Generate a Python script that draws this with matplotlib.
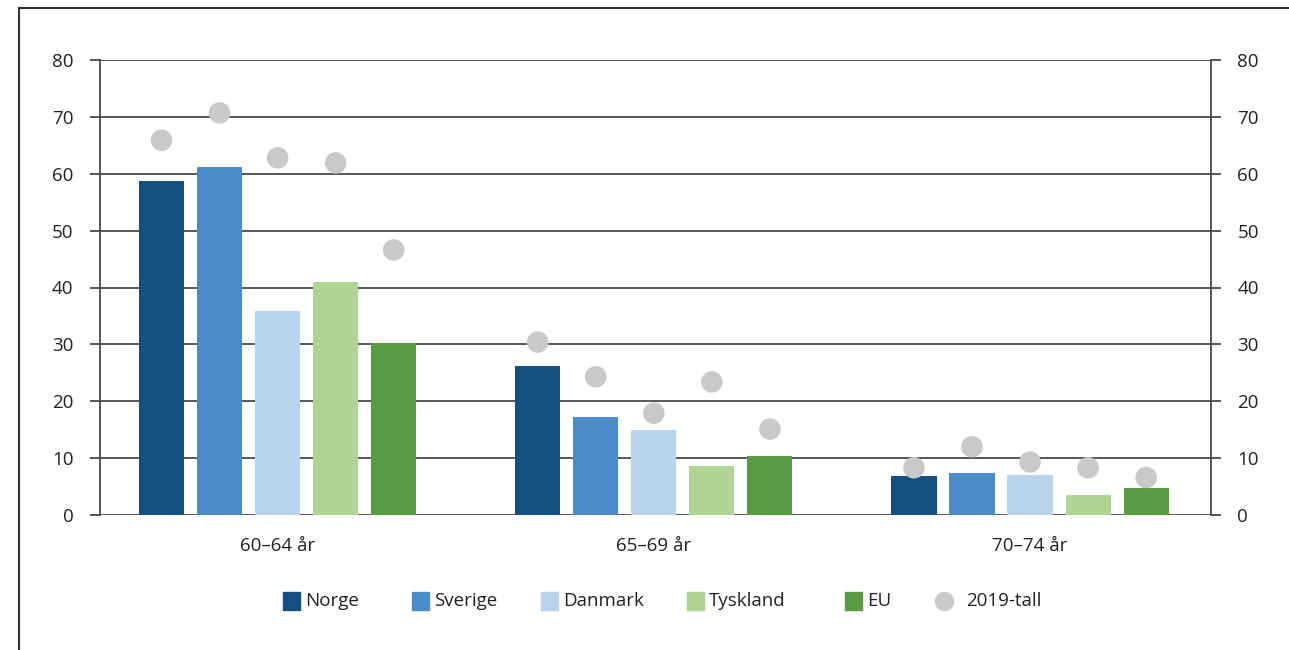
import matplotlib
matplotlib.use("Agg")
import matplotlib.pyplot as plt
import numpy as np
from matplotlib.patches import Rectangle
from matplotlib.lines import Line2D

# Age groups and countries
groups = ["60\u201364 år", "65\u201369 år", "70\u201374 år"]
countries = ["Norge", "Sverige", "Danmark", "Tyskland", "EU"]
colors = ["#134f80", "#4d8ac8", "#b8d3eb", "#b0d494", "#5a9a44"]

# Employment rate (%) by country, one list per age group order
norge = [58.8, 26.2, 6.9]
sverige = [61.2, 17.3, 7.4]
danmark = [35.9, 14.9, 7.0]
tyskland = [41.0, 8.6, 3.6]
eu = [30.2, 10.3, 4.8]

# Corresponding 2019 values
norge_2019 = [65.9, 30.4, 8.3]
sverige_2019 = [70.7, 24.3, 12.0]
danmark_2019 = [62.8, 17.9, 9.3]
tyskland_2019 = [61.9, 23.4, 8.3]
eu_2019 = [46.6, 15.1, 6.6]

dot_label = "2019-tall"
dot_color = "#c8c9cb"
yticks = [0, 10, 20, 30, 40, 50, 60, 70, 80]

values = [norge, sverige, danmark, tyskland, eu]
values_2019 = [norge_2019, sverige_2019, danmark_2019, tyskland_2019, eu_2019]

plt.rcParams["font.family"] = ["Open Sans", "DejaVu Sans"]
W, H = 1289, 650
fig = plt.figure(figsize=(W / 100, H / 100), dpi=100)
ax = fig.add_axes([100 / W, 1 - 515 / H, (1211 - 100) / W, (515 - 60) / H])

x = np.arange(len(groups))
width = 0.12
step = 0.1543
grid_c = "#4a4a4a"
text_c = "#222222"

for i, (vals, col) in enumerate(zip(values, colors)):
    pos = x + (i - 2) * step
    ax.bar(pos, vals, width=width, color=col, edgecolor="none", zorder=3)
for i, vals in enumerate(values_2019):
    pos = x + (i - 2) * step
    ax.scatter(pos, vals, s=240, color=dot_color, edgecolors="none", zorder=4)

ax.set_xlim(-0.472, 2.481)
ax.set_ylim(0, 80)
ax.set_yticks(yticks)
ax.set_xticks([])
for y in yticks:
    ax.axhline(y, color=grid_c, lw=1.3, zorder=2)
for s in ["top", "bottom"]:
    ax.spines[s].set_visible(False)
for s in ["left", "right"]:
    ax.spines[s].set_color(grid_c)
    ax.spines[s].set_linewidth(1.3)
ax.tick_params(axis="y", which="both", left=True, right=True, labelleft=True,
               labelright=True, length=7, width=1.3, color=grid_c,
               labelsize=13.5, pad=12, labelcolor=text_c)

# Group labels under the bars
for xi, g in zip(x, groups):
    ax.text(xi, -5.5, g, ha="center", va="center", fontsize=13.5, color=text_c)

# Legend drawn as a row of swatches
legend_x = [283, 412, 541, 687, 845]
ly = 601
for lx, name, col in zip(legend_x, countries, colors):
    fig.patches.append(Rectangle((lx / W, 1 - (ly + 9) / H), 17 / W, 18 / H,
                                 transform=fig.transFigure, color=col))
    fig.text((lx + 22) / W, 1 - ly / H, name, ha="left", va="center",
             fontsize=13.5, color=text_c)
fig.add_artist(Line2D([944 / W], [1 - ly / H], marker="o", markersize=14,
                      color=dot_color, markeredgecolor="none",
                      transform=fig.transFigure))
fig.text(966 / W, 1 - ly / H, dot_label, ha="left", va="center",
         fontsize=13.5, color=text_c)

# Outer frame lines (top and left)
fig.add_artist(Line2D([19 / W, 1.0], [1 - 8 / H, 1 - 8 / H], color="#333333",
                      lw=1.5, transform=fig.transFigure))
fig.add_artist(Line2D([19 / W, 19 / W], [1 - 8 / H, 0], color="#333333",
                      lw=1.5, transform=fig.transFigure))

fig.savefig("out.png", dpi=100)
